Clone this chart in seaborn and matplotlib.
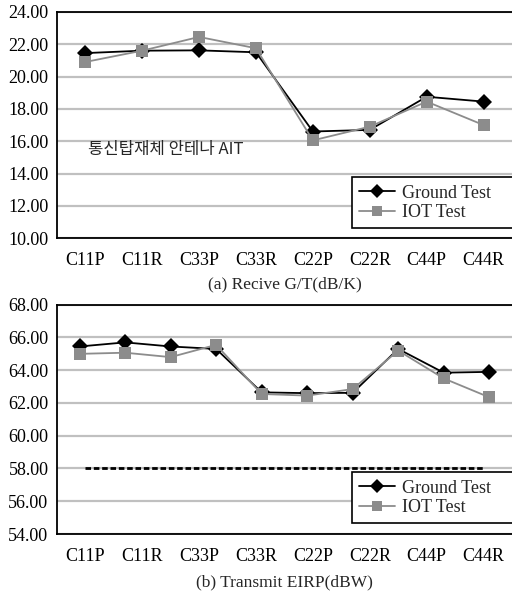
import matplotlib
matplotlib.use('Agg')
import matplotlib.pyplot as plt
import numpy as np
import pandas as pd
import seaborn as sns

# 데이터
channels = ['C11P', 'C11R', 'C33P', 'C33R', 'C22P', 'C22R', 'C44P', 'C44R']
gt_ground = [21.45, 21.6, 21.62, 21.5, 16.6, 16.7, 18.75, 18.45]
gt_iot = [20.9, 21.6, 22.45, 21.75, 16.05, 16.9, 18.45, 17.0]

# 송신 EIRP: 10개 측정점, 눈금 라벨은 8개
eirp_points = list(range(10))
eirp_ground = [65.45, 65.7, 65.45, 65.3, 62.65, 62.6, 62.62, 65.3, 63.85, 63.9]
eirp_iot = [65.0, 65.07, 64.8, 65.55, 62.55, 62.45, 62.85, 65.2, 63.5, 62.35]
eirp_spec = 58.0

series_names = ['Ground Test', 'IOT Test']

sns.set_theme(style="white")
plt.rcParams['font.family'] = ['Liberation Serif', 'Noto Sans CJK KR', 'DejaVu Sans']
plt.rcParams['axes.unicode_minus'] = False

palette = {'Ground Test': 'black', 'IOT Test': '#8c8c8c'}
markers = {'Ground Test': 'D', 'IOT Test': 's'}


def long_df(x, a, b):
    return pd.DataFrame({
        'x': list(x) + list(x),
        'value': list(a) + list(b),
        'series': [series_names[0]] * len(a) + [series_names[1]] * len(b),
    })


def style_axes(ax, ylo, yhi):
    ax.set_ylim(ylo, yhi)
    ax.set_yticks(np.arange(ylo, yhi + 0.1, 2))
    ax.set_yticklabels([f'{v:.2f}' for v in np.arange(ylo, yhi + 0.1, 2)], fontsize=13)
    ax.yaxis.grid(True, color='#c0c0c0', linewidth=1.6)
    ax.xaxis.grid(False)
    ax.set_axisbelow(True)
    for side in ['left', 'bottom', 'top']:
        ax.spines[side].set_color('black')
        ax.spines[side].set_linewidth(1.3)
    ax.spines['right'].set_visible(False)
    ax.tick_params(axis='y', length=0, pad=6, colors='black')
    ax.tick_params(axis='x', length=0, pad=10, colors='black')
    ax.set_ylabel('')
    # 범례 오른쪽은 그림 밖으로 잘림
    leg = ax.legend(loc='upper left', bbox_to_anchor=(0.648, 0.0, 0.4, 0.27),
                    mode='expand', fontsize=13,
                    frameon=True, fancybox=False, handlelength=2.0,
                    labelspacing=0.12, borderpad=0.42, handletextpad=0.35,
                    borderaxespad=0)
    leg.get_frame().set_edgecolor('black')
    leg.get_frame().set_linewidth(1.2)
    leg.get_frame().set_alpha(1)
    for h in leg.legend_handles:
        h.set_markersize(7)


fig = plt.figure(figsize=(5.12, 5.94), dpi=100)
ax1 = fig.add_axes([0.111, 0.599, 0.889, 0.381])
ax2 = fig.add_axes([0.111, 0.101, 0.889, 0.386])

# (a) 수신 G/T
df1 = long_df(channels, gt_ground, gt_iot)
sns.lineplot(data=df1, x='x', y='value', hue='series', style='series',
             palette=palette, markers=markers, dashes=False, markersize=8.5,
             markeredgewidth=0, linewidth=1.3, sort=False, ax=ax1)
ax1.set_xlim(-0.5, len(channels) - 0.5)
style_axes(ax1, 10, 24)
ax1.set_xticks(range(len(channels)))
ax1.set_xticklabels(channels, fontsize=13)
ax1.set_xlabel('(a) Recive G/T(dB/K)', fontsize=12.5, labelpad=5)
ax1.text(0.068, 0.39, '통신탑재체 안테나 AIT', transform=ax1.transAxes,
         fontsize=12, family=['Noto Sans CJK KR', 'DejaVu Sans'], va='center')

# (b) 송신 EIRP
df2 = long_df(eirp_points, eirp_ground, eirp_iot)
sns.lineplot(data=df2, x='x', y='value', hue='series', style='series',
             palette=palette, markers=markers, dashes=False, markersize=8.5,
             markeredgewidth=0, linewidth=1.3, sort=False, ax=ax2)
n_pts = len(eirp_points)
ax2.set_xlim(-0.5, n_pts - 0.5)
label_pos = (np.arange(len(channels)) + 0.5) * n_pts / len(channels) - 0.5
ax2.plot([label_pos[0], label_pos[-1]], [eirp_spec, eirp_spec], color='black',
         linestyle=(0, (2.0, 1.0)), linewidth=2.0, zorder=1.5)
style_axes(ax2, 54, 68)
ax2.set_xticks(label_pos)
ax2.set_xticklabels(channels, fontsize=13)
ax2.set_xlabel('(b) Transmit EIRP(dBW)', fontsize=12.5, labelpad=7)

fig.savefig('out.png', dpi=100)
